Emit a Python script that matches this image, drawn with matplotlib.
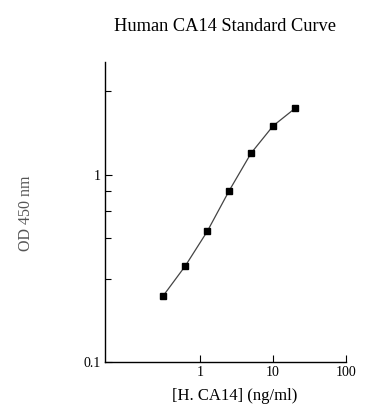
import matplotlib
matplotlib.use("Agg")
import matplotlib.pyplot as plt
from matplotlib.ticker import FixedLocator, NullFormatter

# ── Data ──────────────────────────────────────────────────────────────────────

conc = [0.3125, 0.625, 1.25, 2.5, 5, 10, 20]
od = [0.227, 0.327, 0.500, 0.825, 1.31, 1.83, 2.27]

x_ticks = [1, 10, 100]
x_tick_labels = ["1", "10", "100"]
y_ticks = [0.1, 1]
y_tick_labels = ["0.1", "1"]
y_minor = [0.28, 0.46, 0.64, 0.82, 2.8]

# ── Plot ─────────────────────────────────────────────────────────────────────

plt.rcParams["font.family"] = ["Liberation Serif", "DejaVu Serif"]

fig = plt.figure(figsize=(3.88, 4.2), dpi=100)
ax = fig.add_axes([0.2714, 0.1374, 0.6204, 0.7143])

ax.plot(conc, od, color="#444444", linewidth=0.9)
ax.plot(conc, od, linestyle="none", marker="s", markersize=3.8,
        color="black")

ax.set_xscale("log")
ax.set_yscale("log")
ax.set_xlim(0.05, 100)
ax.set_ylim(0.1, 4.0)

ax.xaxis.set_major_locator(FixedLocator(x_ticks))
ax.set_xticklabels(x_tick_labels)
ax.xaxis.set_minor_locator(FixedLocator([]))
ax.yaxis.set_major_locator(FixedLocator(y_ticks))
ax.set_yticklabels(y_tick_labels)
ax.yaxis.set_minor_locator(FixedLocator(y_minor))
ax.yaxis.set_minor_formatter(NullFormatter())

ax.tick_params(axis="both", which="major", direction="in", length=5,
               width=0.8, labelsize=10, pad=3)
ax.tick_params(axis="y", which="minor", direction="in", length=4,
               width=0.8)

for s in ["top", "right"]:
    ax.spines[s].set_visible(False)
for s in ["left", "bottom"]:
    ax.spines[s].set_linewidth(1.0)

fig.text(0.581, 0.938, "Human CA14 Standard Curve", ha="center",
         va="center", fontsize=13.2)
fig.text(0.605, 0.058, "[H. CA14] (ng/ml)", ha="center", va="center",
         fontsize=12)
fig.text(0.067, 0.493, "OD 450 nm", ha="center", va="center",
         rotation=90, fontsize=11.5, color="#555555")

fig.savefig("out.png", dpi=100)
